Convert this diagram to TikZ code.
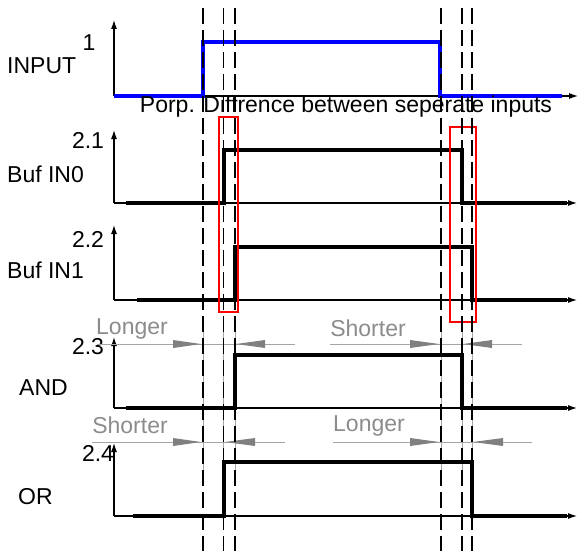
\documentclass[tikz,border=0pt]{standalone}
\usepackage{fontspec}
\setmainfont{Liberation Sans}
\usetikzlibrary{arrows.meta}
\definecolor{dimgray}{RGB}{165,165,165}
\definecolor{dimarrow}{RGB}{128,128,128}
\definecolor{dimtext}{RGB}{140,140,140}
\definecolor{sigblue}{RGB}{0,0,255}
\tikzset{
  lbl/.style={font=\fontsize{23}{27}\selectfont, inner sep=0pt, anchor=west},
  num/.style={font=\fontsize{23}{27}\selectfont, inner sep=0pt},
  dimlbl/.style={font=\fontsize{23}{27}\selectfont, inner sep=0pt, text=dimtext},
  axis/.style={line width=1.1pt, -{Latex[length=9pt,width=6pt]}},
  sig/.style={line width=4pt, line join=miter},
  guide/.style={line width=1.4pt, dash pattern=on 16pt off 6pt},
  ext/.style={line width=0.6pt, dimgray},
  dimline/.style={line width=1pt, dimgray},
  dimtip/.style={fill=dimarrow, draw=none},
  redbox/.style={draw=red, line width=1.2pt}
}
\begin{document}
\begin{tikzpicture}[x=1pt,y=-1pt]
\useasboundingbox (0,0) rectangle (579,551);
\fill[white] (0,0) rectangle (579,551);

% axes
\coordinate (o0) at (114,96);
\coordinate (o1) at (114,203);
\coordinate (o2) at (114,300);
\coordinate (o3) at (114,408);
\coordinate (o4) at (114,516);
\coordinate (t0) at (114,20);
\coordinate (t1) at (114,130);
\coordinate (t2) at (114,225);
\coordinate (t3) at (114,337);
\coordinate (t4) at (114,443);
\coordinate (e0) at (578,96);
\coordinate (e1) at (577,203);
\coordinate (e2) at (577,300);
\coordinate (e3) at (577,408);
\coordinate (e4) at (577,516);
\foreach \i in {0,...,4}{
  \draw[axis] (o\i) -- (t\i);
  \draw[axis] (o\i) -- (e\i);
}

% extension lines (grey)
\foreach \xx in {203,223.5,235,441,462,472}{
  \draw[ext] (\xx,322) -- (\xx,486);
}

% signals
\draw[sig, sigblue] (114,96) -- (203,96) -- (203,42) -- (440,42) -- (440,96) -- (562,96);
\draw[sig] (126,203) -- (223.5,203) -- (223.5,150) -- (462,150) -- (462,203) -- (567,203);
\draw[sig] (137,300) -- (235,300) -- (235,247) -- (472,247) -- (472,300) -- (567,300);
\draw[sig] (126,408) -- (235,408) -- (235,355) -- (462,355) -- (462,408) -- (567,408);
\draw[sig] (133,516) -- (223.5,516) -- (223.5,462) -- (472,462) -- (472,516) -- (567,516);

% labels
\node[lbl] (input) at (7,66) {INPUT};
\node[num] (n1) at (89,43) {1};
\node[lbl] (buf0) at (7,174) {Buf IN0};
\node[num] (n21) at (88,140) {2.1};
\node[lbl] (buf1) at (7,270) {Buf IN1};
\node[num] (n22) at (88,239) {2.2};
\node[lbl] (and) at (19,388) {AND};
\node[num] (n23) at (88,347) {2.3};
\node[lbl] (or) at (18,497) {OR};
\node[num] (n24) at (98,453) {2.4};
\node[num] (porp) at (346,107) {Porp. Diffrence between seperate inputs};

% dimension rows
\draw[dimline] (97,344) -- (295,344);
\draw[dimline] (330,344) -- (522,344);
\draw[dimline] (92,442) -- (285,442);
\draw[dimline] (333,442) -- (532,442);
\node[dimlbl] (long1) at (132,329) {Longer};
\node[dimlbl] (short1) at (368,328) {Shorter};
\node[dimlbl] (short2) at (130,425) {Shorter};
\node[dimlbl] (long2) at (369,426) {Longer};
% arrow tips: tail, tip, y
\foreach \ta/\tb/\yy in {173/201/344, 265/236/344, 410/439/344, 492/463/344,
                          173/201/442, 255/225/442, 410/439/442, 503/473/442}{
  \fill[dimtip] (\ta,\yy-4) -- (\tb,\yy) -- (\ta,\yy+4) -- cycle;
}

% red boxes
\draw[redbox] (219,117) rectangle (238,312);
\draw[redbox] (450,127) rectangle (476,322);

% dashed guides
\foreach \xx in {203,223.5,235,441,462,472}{
  \draw[guide] (\xx,8) -- (\xx,551);
}
\end{tikzpicture}
\end{document}
